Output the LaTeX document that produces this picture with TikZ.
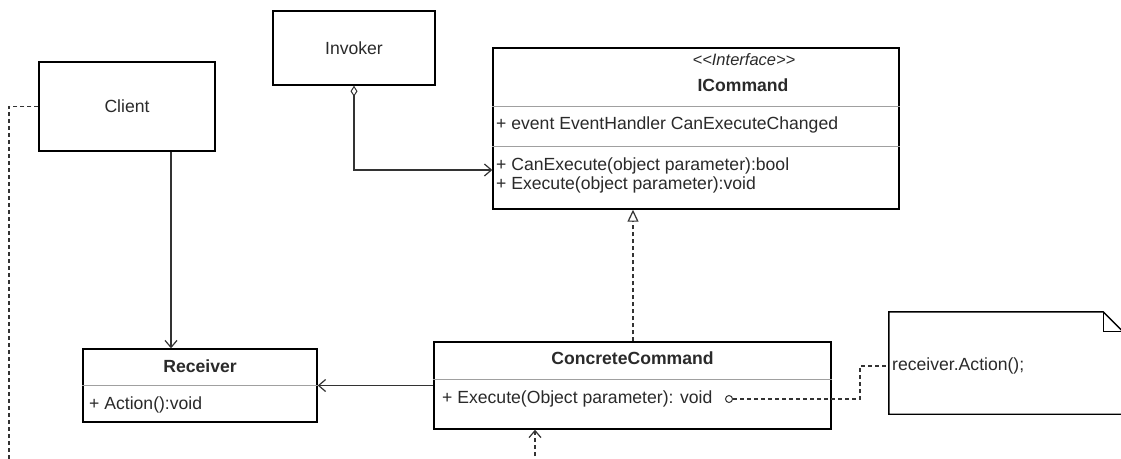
\documentclass[tikz,border=0pt]{standalone}
\usepackage{fontspec}
\setmainfont{Liberation Sans}
\usetikzlibrary{arrows.meta,calc}
\definecolor{txt}{HTML}{2A2A2A}
\definecolor{ln}{HTML}{333333}
\definecolor{sepc}{HTML}{A0A0A0}
\newcommand{\fs}{\fontsize{17.6}{20}\selectfont}
\tikzset{
  box/.style={draw=black, line width=1.4pt, fill=white, inner sep=0pt, text=txt, font=\fs},
  lbl/.style={inner sep=0pt, text=txt, font=\fs},
  sepline/.style={draw=sepc, line width=0.9pt},
  conn/.style={draw=ln, line width=1.3pt},
  dashconn/.style={draw=ln, line width=1.3pt, dash pattern=on 4pt off 3pt},
  openarrow/.style={-{Straight Barb[length=7pt,width=12pt,line width=1.2pt]}},
}
\begin{document}
\begin{tikzpicture}[x=1pt,y=-1pt]
\useasboundingbox (0,0) rectangle (1121,458);
\clip (0,0) rectangle (1121,458);
\fill[white] (0,0) rectangle (1121,458);

% Client
\node[box, minimum width=176pt, minimum height=89pt] (client) at (127,106.5) {Client};
% Invoker
\node[box, minimum width=162pt, minimum height=74pt] (invoker) at (354,48) {Invoker};
% ICommand
\node[box, minimum width=406pt, minimum height=161pt] (icmd) at (696,128.5) {};
\node[lbl, font=\itshape\fontsize{16.5}{18}\selectfont] (icst) at (744,60) {{<}{<}Interface{>}{>}};
\node[lbl, font=\bfseries\fs] (icname) at (743,85) {ICommand};
\draw[sepline] (icmd.west |- 0,106) -- (icmd.east |- 0,106);
\draw[sepline] (icmd.west |- 0,146) -- (icmd.east |- 0,146);
\node[lbl, anchor=west] (icf1) at (496,125) {+ event EventHandler CanExecuteChanged};
\node[lbl, anchor=west] (icm1) at (496,166) {+ CanExecute(object parameter):bool};
\node[lbl, anchor=west] (icm2) at (496,185) {+ Execute(object parameter):void};

% Receiver
\node[box, minimum width=234pt, minimum height=73pt] (recv) at (200,385.5) {};
\node[lbl, font=\bfseries\fs] (recvname) at (200,366) {Receiver};
\draw[sepline] (recv.west |- 0,385) -- (recv.east |- 0,385);
\node[lbl, anchor=west] (recvm) at (89,405) {+ Action():void};

% ConcreteCommand
\node[box, minimum width=397pt, minimum height=87pt] (cc) at (632.5,385.5) {};
\node[lbl, font=\bfseries\fs] (ccname) at (632.5,358) {ConcreteCommand};
\draw[sepline] (cc.west |- 0,379) -- (cc.east |- 0,379);
\node[lbl, anchor=west] (ccm) at (442,399) {+ Execute(Object parameter): void};
\node[circle, draw=ln, line width=1pt, minimum size=7pt, inner sep=0pt] (dot) at (729,399) {};

% Note
\node[inner sep=0pt, minimum width=234pt, minimum height=102pt] (note) at (1006,363) {};
\draw[draw=black, line width=1.4pt, fill=white]
  (note.north west) -- ($(note.north east)+(-20,0)$) -- ($(note.north east)+(0,20)$)
  -- (note.south east) -- (note.south west) -- cycle;
\draw[draw=black, line width=1.2pt]
  ($(note.north east)+(-20,0)$) -- ($(note.north east)+(-20,20)$) -- ($(note.north east)+(0,20)$);
\node[lbl, anchor=west] (notetext) at (892,366) {receiver.Action();};

% Connectors
\coordinate (clientend) at (9,470);
\draw[dashconn] (client.west) -- (clientend |- client.west) -- (clientend);

\draw[conn, openarrow] (client.south -| 171,0) -- (recv.north -| 171,0);

\draw[conn, {Diamond[open,length=11pt,width=7pt,line width=1pt]}-{Straight Barb[length=7pt,width=12pt,line width=1.2pt]}]
  (invoker.south) -- (invoker.south |- 0,170) -- (icmd.west |- 0,170);

\draw[conn, line width=1.6pt, openarrow] (cc.west) -- (cc.west -| recv.east);

\draw[dashconn, -{Triangle[open,length=12pt,width=11pt,line width=1.2pt,fill=white]}]
  (cc.north -| 633,0) -- (icmd.south -| 633,0);

\coordinate (depstart) at (535,470);
\draw[dashconn, openarrow] (depstart) -- (cc.south -| depstart);

\coordinate (nbend) at (860,399);
\draw[dashconn] (dot.east) -- (nbend) -- (nbend |- notetext.west) -- (note.west |- notetext.west);
\end{tikzpicture}
\end{document}
